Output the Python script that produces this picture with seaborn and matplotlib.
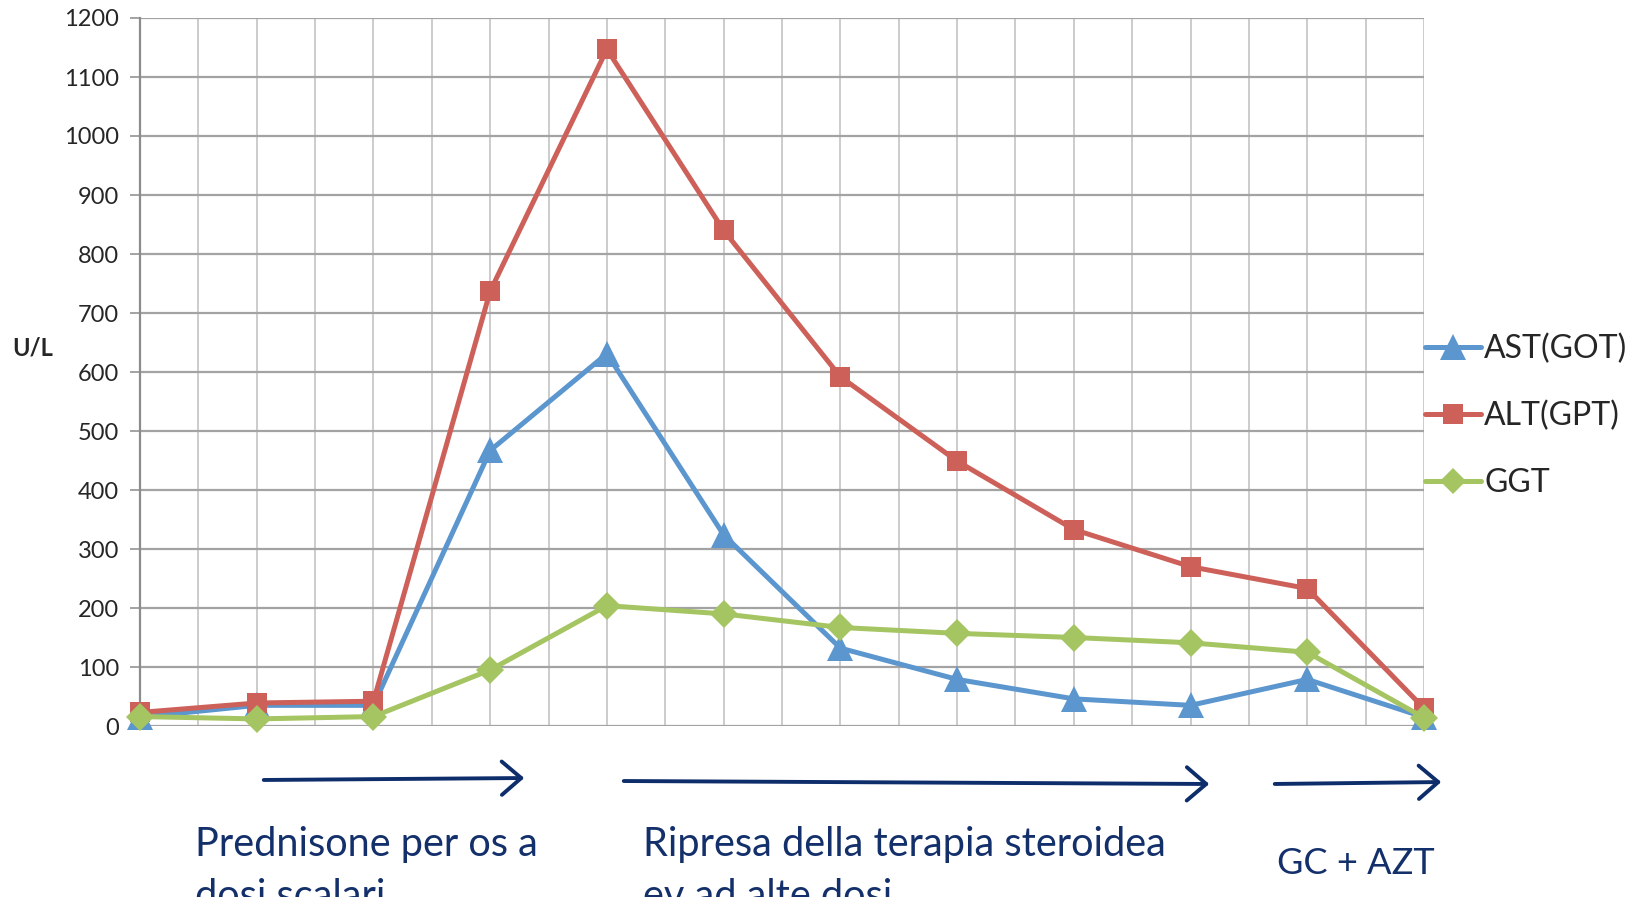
import matplotlib
matplotlib.use("Agg")
import matplotlib.pyplot as plt
import seaborn as sns
import pandas as pd
import numpy as np
from matplotlib.lines import Line2D

# ---- data ----
x_idx = list(range(12))
ast_vals = [15, 35, 35, 467, 631, 324, 132, 79, 46, 35, 79, 15]
alt_vals = [23, 39, 42, 737, 1147, 840, 592, 449, 333, 270, 233, 30]
ggt_vals = [16, 12, 16, 95, 204, 190, 167, 157, 150, 141, 125, 14]
series_names = ["AST(GOT)", "ALT(GPT)", "GGT"]
y_ticks = list(range(0, 1300, 100))
phase_labels = ["Prednisone per os a\ndosi scalari",
                "Ripresa della terapia steroidea\nev ad alte dosi",
                "GC + AZT"]

colors = ["#5B96CE", "#CD615A", "#A5C462"]
markers = ["^", "s", "D"]
msizes = [19, 14.5, 14]

sns.set_theme(style="white")
plt.rcParams["font.family"] = ["Lato", "DejaVu Sans"]

df = pd.DataFrame({
    "x": x_idx * 3,
    "val": ast_vals + alt_vals + ggt_vals,
    "serie": sum([[n] * 12 for n in series_names], []),
})

fig = plt.figure(figsize=(16.31, 8.97), dpi=100)
ax = fig.add_axes([140 / 1631, 1 - 726 / 897, (1424 - 140) / 1631, (726 - 18) / 897])

# grid
for xv in np.arange(0, 11.01, 0.5):
    ax.axvline(xv, color="#CCCCCC", lw=1.4, zorder=0)
for yv in y_ticks:
    ax.axhline(yv, color="#A3A3A3", lw=1.6, zorder=0)

for name, c, m, ms in zip(series_names, colors, markers, msizes):
    sub = df[df["serie"] == name]
    sns.lineplot(data=sub, x="x", y="val", ax=ax, color=c, lw=3.6,
                 marker=m, markersize=ms, markeredgewidth=0, markerfacecolor=c,
                 zorder=3, clip_on=False, legend=False)

ax.set_xlim(0, 11)
ax.set_ylim(0, 1200)
ax.set_yticks(y_ticks)
ax.set_yticklabels([str(v) for v in y_ticks], fontsize=17)
ax.set_xticks([])
ax.set_xlabel("")
ax.set_ylabel("")
for s in ["top", "right", "bottom"]:
    ax.spines[s].set_visible(False)
ax.spines["left"].set_color("#8C8C8C")
ax.spines["left"].set_linewidth(1.6)
ax.tick_params(axis="y", length=7, width=1.4, color="#A3A3A3", pad=8, left=True)

fig.text(12 / 1631, 1 - 348 / 897, "U/L", fontsize=17, fontweight="bold",
         ha="left", va="center")

handles = [Line2D([0], [0], color=c, lw=3.6, marker=m, markersize=ms * 0.95,
                  markeredgewidth=0)
           for c, m, ms in zip(colors, markers, msizes)]
fig.legend(handles, series_names, loc="center left",
           bbox_to_anchor=(1425 / 1631, 1 - 416 / 897), frameon=False,
           fontsize=23, handlelength=1.75, handletextpad=0.1,
           labelspacing=1.15, borderpad=0, borderaxespad=0)

# phase arrows
navy = "#0E2D6B"
arrows = [((261, 780), (527, 778)), ((621, 781), (1212, 784)), ((1272, 784), (1444, 782))]
for (x0, y0), (x1, y1) in arrows:
    fig.add_artist(matplotlib.patches.FancyArrowPatch(
        (x0 / 1631, 1 - y0 / 897), (x1 / 1631, 1 - y1 / 897),
        transform=fig.transFigure, arrowstyle="->,head_length=0.7,head_width=0.6",
        mutation_scale=20, color=navy, lw=2.8))

text_color = "#14306B"
fig.text(195 / 1631, 1 - 826 / 897, phase_labels[0], fontsize=28.6, color=text_color,
         ha="left", va="top", linespacing=1.5)
fig.text(643 / 1631, 1 - 826 / 897, phase_labels[1], fontsize=28.6, color=text_color,
         ha="left", va="top", linespacing=1.5)
fig.text(1277 / 1631, 1 - 847 / 897, phase_labels[2], fontsize=26, color=text_color,
         ha="left", va="top")

fig.savefig("out.png", dpi=100, facecolor="white")
